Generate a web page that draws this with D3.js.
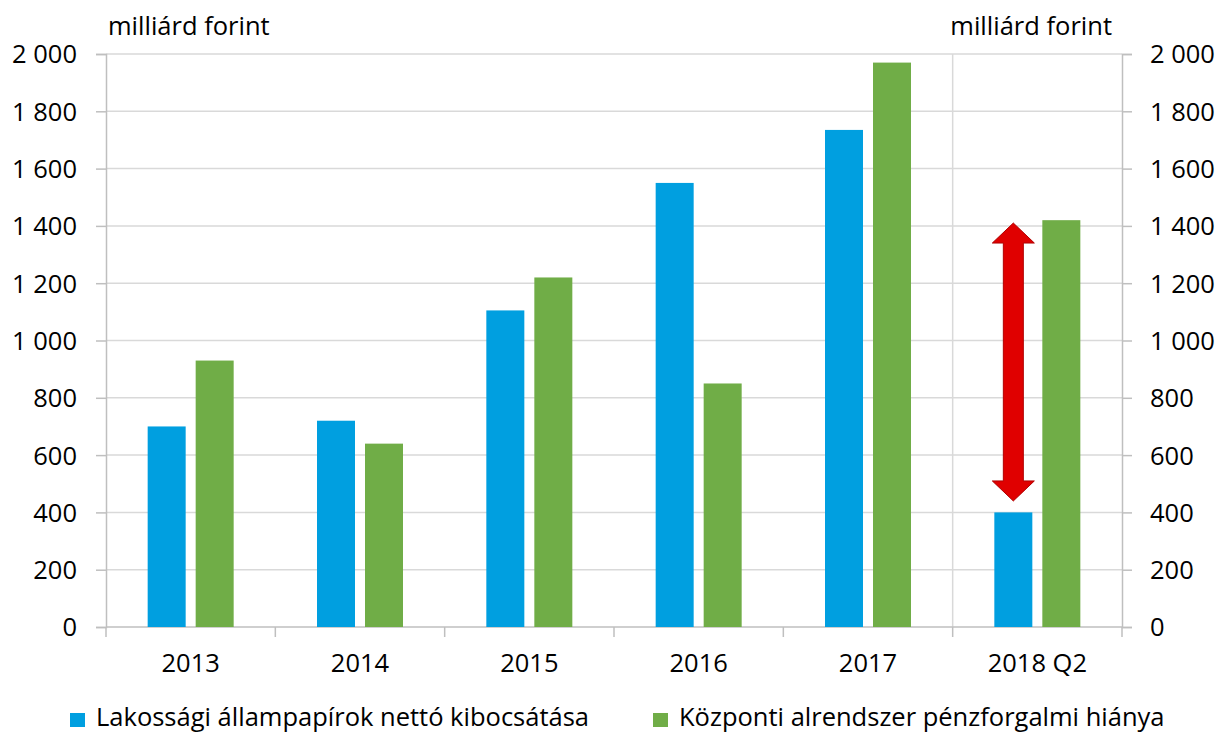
<!DOCTYPE html>
<html>
<head>
<meta charset="utf-8">
<script src="https://cdn.jsdelivr.net/npm/d3@7"></script>
<style>
	body { margin: 0; background: #fff; }
	text { font-family: 'Open Sans', Lato, sans-serif; fill: #000; }
</style>
</head>
<body>
<script>
// categories and series
const categories = ['2013', '2014', '2015', '2016', '2017', '2018 Q2'];
const seriesNames = ['Lakossági állampapírok nettó kibocsátása', 'Központi alrendszer pénzforgalmi hiánya'];
const retailIssuance = [700, 720, 1105, 1550, 1735, 400];
const centralDeficit = [930, 640, 1220, 850, 1970, 1420];
const yTicks = [0, 200, 400, 600, 800, 1000, 1200, 1400, 1600, 1800, 2000];
const unitLabel = 'milliárd forint';
// red double arrow between the two 2018 Q2 bars
const arrowCategory = '2018 Q2';
const arrowFrom = 440;
const arrowTo = 1410;

const BLUE = '#009fe0';
const GREEN = '#70ad47';
const ARROW_FILL = '#e00000';
const ARROW_STROKE = '#b00000';
const GRID_COLOR = '#d9d9d9';
const AXIS_COLOR = '#bfbfbf';
const FONT_SIZE = 25.5;

const width = 1220;
const height = 733;
const margin = { top: 54, right: 98, bottom: 106, left: 106 };

const svg = d3.select('body')
	.append('svg')
	.attr('width', width)
	.attr('height', height);

const x = d3.scaleBand()
	.domain(categories)
	.range([margin.left, width - margin.right])
	.paddingInner(0)
	.paddingOuter(0);

const xInner = d3.scaleBand()
	.domain([0, 1])
	.range([-43, 43])
	.paddingInner(10 / 48);

const y = d3.scaleLinear()
	.domain([0, 2000])
	.range([height - margin.bottom, margin.top]);

const fmt = d => d3.format(',')(d).replace(/,/g, ' ');

// gridlines
svg.append('g')
	.selectAll('line')
	.data(yTicks.filter(t => t > 0))
	.enter()
	.append('line')
	.attr('x1', margin.left)
	.attr('x2', width - margin.right)
	.attr('y1', d => y(d))
	.attr('y2', d => y(d))
	.attr('stroke', GRID_COLOR)
	.attr('stroke-width', 1.5);

// separator before the last category
svg.append('line')
	.attr('x1', x(arrowCategory))
	.attr('x2', x(arrowCategory))
	.attr('y1', y(2000))
	.attr('y2', y(0))
	.attr('stroke', GRID_COLOR)
	.attr('stroke-width', 1.5);

// left and right axes
const gl = svg.append('g')
	.attr('transform', `translate(${margin.left},0)`)
	.call(d3.axisLeft(y).tickValues(yTicks).tickSize(10).tickPadding(19).tickFormat(fmt));

const gr = svg.append('g')
	.attr('transform', `translate(${width - margin.right},0)`)
	.call(d3.axisRight(y).tickValues(yTicks).tickSize(10).tickPadding(18).tickFormat(fmt));

[gl, gr].forEach(g => {
	g.select('.domain').attr('stroke', AXIS_COLOR).attr('stroke-width', 1.5);
	g.selectAll('.tick line').attr('stroke', AXIS_COLOR).attr('stroke-width', 1.5);
	g.selectAll('.tick text')
		.attr('font-size', FONT_SIZE)
		.attr('font-family', null)
		.attr('fill', '#000')
		.attr('dy', '0.35em');
});

// bottom axis with ticks at category boundaries
const xAxis = svg.append('g');
xAxis.append('line')
	.attr('x1', margin.left)
	.attr('x2', width - margin.right)
	.attr('y1', y(0))
	.attr('y2', y(0))
	.attr('stroke', AXIS_COLOR)
	.attr('stroke-width', 1.5);

xAxis.selectAll('.bound')
	.data(categories.concat(['end']))
	.enter()
	.append('line')
	.attr('x1', (d, i) => margin.left + i * x.step())
	.attr('x2', (d, i) => margin.left + i * x.step())
	.attr('y1', y(0))
	.attr('y2', y(0) + 10)
	.attr('stroke', AXIS_COLOR)
	.attr('stroke-width', 1.5);

xAxis.selectAll('.lbl')
	.data(categories)
	.enter()
	.append('text')
	.text(d => d)
	.attr('x', d => x(d) + x.bandwidth() / 2)
	.attr('y', 672)
	.attr('text-anchor', 'middle')
	.attr('font-size', FONT_SIZE);

// bars
const seriesData = [retailIssuance, centralDeficit];
const colors = [BLUE, GREEN];

seriesData.forEach((values, s) => {
	svg.append('g')
		.selectAll('rect')
		.data(values)
		.enter()
		.append('rect')
		.attr('x', (d, i) => x(categories[i]) + x.bandwidth() / 2 + xInner(s))
		.attr('width', xInner.bandwidth())
		.attr('y', d => y(d))
		.attr('height', d => y(0) - y(d))
		.attr('fill', colors[s]);
});

// double arrow
const ax = x(arrowCategory) + x.bandwidth() / 2 + xInner(0) + xInner.bandwidth() / 2;
const yTop = y(arrowTo);
const yBot = y(arrowFrom);
const headLen = 20;
const headHalf = 21;
const shaftHalf = 10;
const arrowPath = [
	[ax, yTop],
	[ax + headHalf, yTop + headLen],
	[ax + shaftHalf, yTop + headLen],
	[ax + shaftHalf, yBot - headLen],
	[ax + headHalf, yBot - headLen],
	[ax, yBot],
	[ax - headHalf, yBot - headLen],
	[ax - shaftHalf, yBot - headLen],
	[ax - shaftHalf, yTop + headLen],
	[ax - headHalf, yTop + headLen]
];
svg.append('path')
	.attr('d', d3.line()(arrowPath) + 'Z')
	.attr('fill', ARROW_FILL)
	.attr('stroke', ARROW_STROKE)
	.attr('stroke-width', 1);

// unit labels
svg.append('text')
	.text(unitLabel)
	.attr('x', 108)
	.attr('y', 35)
	.attr('font-size', FONT_SIZE);

svg.append('text')
	.text(unitLabel)
	.attr('x', 1112)
	.attr('y', 35)
	.attr('text-anchor', 'end')
	.attr('font-size', FONT_SIZE);

// legend
const legendX = [70, 653];
const legend = svg.append('g');
seriesNames.forEach((name, i) => {
	legend.append('rect')
		.attr('x', legendX[i])
		.attr('y', 713)
		.attr('width', 15)
		.attr('height', 14)
		.attr('fill', colors[i]);
	legend.append('text')
		.text(name)
		.attr('x', legendX[i] + 26)
		.attr('y', 726)
		.attr('font-size', FONT_SIZE);
});
</script>
</body>
</html>
